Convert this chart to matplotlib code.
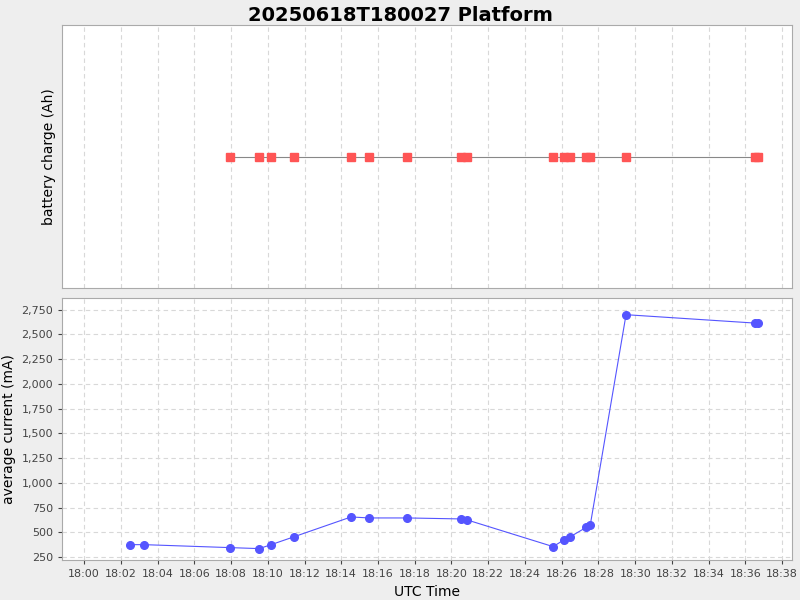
import matplotlib
matplotlib.use("Agg")
import matplotlib.pyplot as plt
import matplotlib.dates as mdates
import pandas as pd

times = ["18:02:30", "18:03:16", "18:07:57", "18:09:32", "18:10:11", "18:11:26",
         "18:14:32", "18:15:31", "18:17:35", "18:20:31", "18:20:51", "18:25:32",
         "18:26:08", "18:26:28", "18:27:20", "18:27:33", "18:29:30", "18:36:32", "18:36:42"]
current_ma = [375, 375, 345, 335, 375, 455, 655, 645, 645, 635, 625, 355,
              425, 455, 550, 570, 2700, 2615, 2615]
charge_times = times[2:]
charge_ah = [0] * len(charge_times)

t = pd.to_datetime(["2025-06-18 " + s for s in times])
tc = pd.to_datetime(["2025-06-18 " + s for s in charge_times])

fig = plt.figure(figsize=(8, 6), dpi=100, facecolor="#eeeeee")
ax1 = fig.add_axes([0.0775, 0.52, 0.9125, 0.438])
ax2 = fig.add_axes([0.0775, 0.0667, 0.9125, 0.437])
fig.suptitle("20250618T180027 Platform", y=0.99, fontsize=14, fontweight="bold")

xmin = pd.Timestamp("2025-06-18 17:58:48")
xmax = pd.Timestamp("2025-06-18 18:38:32")
for ax in (ax1, ax2):
    ax.set_facecolor("white")
    ax.set_xlim(xmin, xmax)
    ax.xaxis.set_major_locator(mdates.MinuteLocator(byminute=range(0, 60, 2)))
    ax.xaxis.set_major_formatter(mdates.DateFormatter("%H:%M"))
    ax.grid(True, color="#d8d8d8", linestyle=(0, (4, 3)), linewidth=0.8)
    ax.set_axisbelow(True)
    for s in ax.spines.values():
        s.set_color("#aaaaaa")
    ax.tick_params(labelsize=8, colors="#444444", length=3)

ax1.plot(tc, charge_ah, color="#888888", linewidth=0.8)
ax1.plot(tc, charge_ah, linestyle="none", marker="s", markersize=6, color="#ff5555")
ax1.set_ylim(-1, 1)
ax1.set_yticks([])
ax1.tick_params(axis="x", labelbottom=False, length=0)
ax1.set_ylabel("battery charge (Ah)", fontsize=10)

ax2.plot(t, current_ma, color="#5555ff", linewidth=0.8, marker="o", markersize=5.5)
ax2.set_ylim(220, 2871)
ax2.set_yticks(range(250, 2751, 250))
ax2.yaxis.set_major_formatter(matplotlib.ticker.StrMethodFormatter("{x:,.0f}"))
ax2.set_ylabel("average current (mA)", fontsize=10)
ax2.set_xlabel("UTC Time", fontsize=10)

fig.savefig("out.png", dpi=100, facecolor=fig.get_facecolor())
